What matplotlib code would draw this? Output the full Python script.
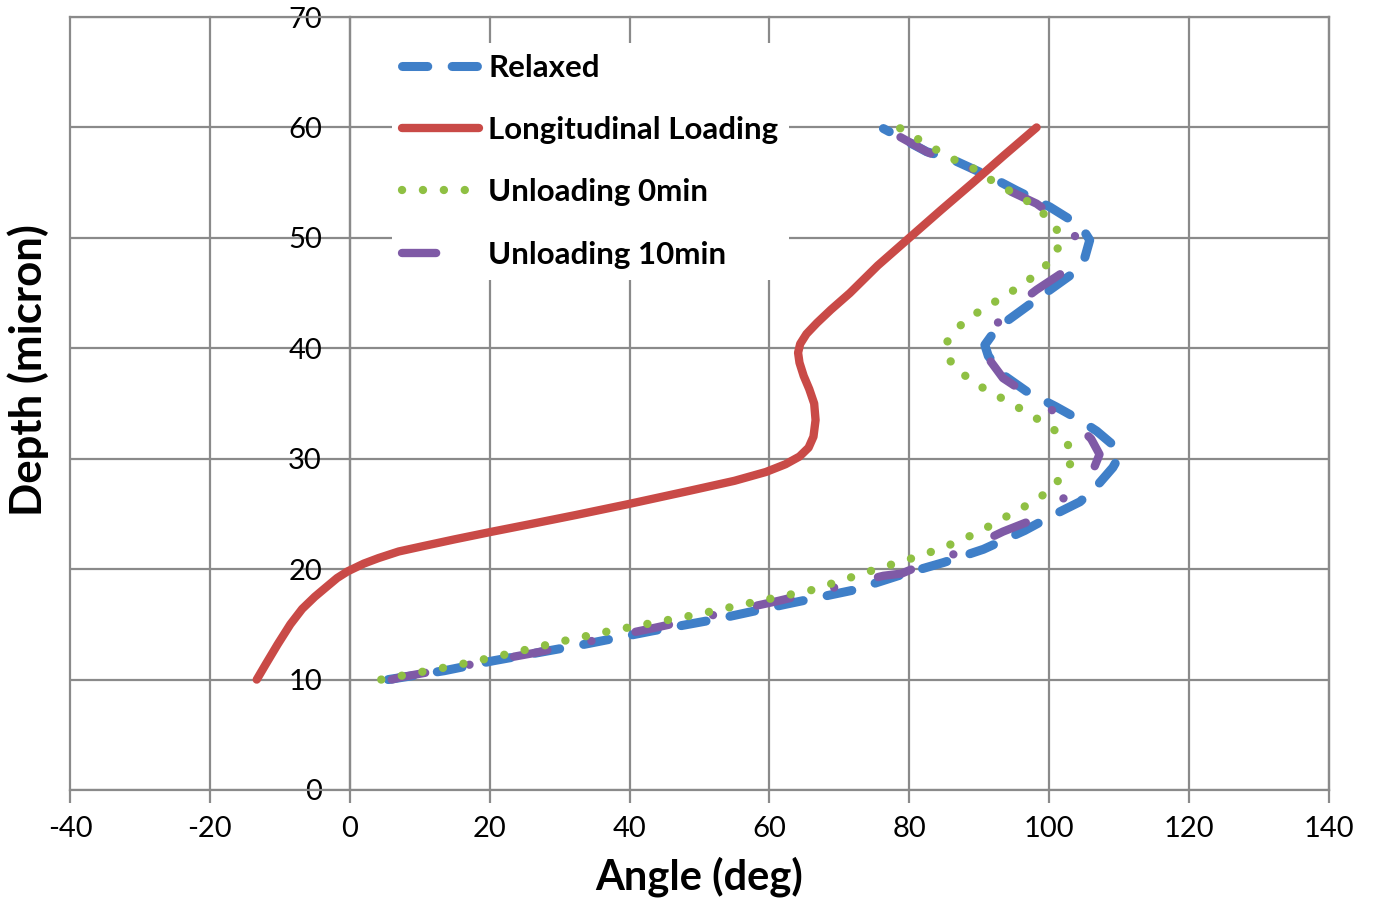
import matplotlib
matplotlib.use("Agg")
import matplotlib.pyplot as plt
from matplotlib.lines import Line2D

plt.rcParams['font.family'] = ['Lato', 'DejaVu Sans']
plt.rcParams['axes.unicode_minus'] = False

# Relaxed (blue dashed): angle (deg) / depth (micron)
relaxed_angle = [5.5, 13.5, 20.5, 33.6, 43.2, 52.7, 62.2, 72.0, 78.9, 84.9, 90.6, 96.5, 100.6,
                 104.4, 106.5, 109.1, 110.0, 109.6, 106.8, 104.4, 101.0, 97.0, 93.4, 91.3, 90.8,
                 92.5, 97.7, 103.0, 105.0, 105.8, 105.0, 103.4, 100.1, 95.3, 92.0, 85.8, 82.5, 76.3]
relaxed_depth = [10.0, 10.8, 11.7, 13.2, 14.4, 15.5, 16.8, 18.1, 19.5, 20.6, 21.8, 23.5, 24.9,
                 26.1, 27.3, 29.2, 30.2, 31.0, 32.5, 33.5, 34.7, 36.0, 37.6, 39.3, 40.3,
                 41.8, 44.2, 46.6, 48.0, 49.8, 50.6, 51.5, 52.8, 54.3, 55.4, 57.2, 57.8, 59.9]

# Longitudinal Loading (red solid)
loading_angle = [-13.3, -12.0, -10.3, -8.5, -6.8, -5.0, -3.5, -1.8, -0.3, 2.0, 4.1, 7.0, 10.6,
                 15.0, 20.4, 26.0, 32.3, 39.9, 48.6, 55.0, 59.5, 62.3, 64.3, 65.6, 66.3, 66.6,
                 66.4, 65.7, 64.9, 64.3, 64.1, 64.4, 65.3, 66.8, 68.8, 71.5, 75.5, 80.0, 84.5,
                 89.1, 93.6, 98.2]
loading_depth = [10.0, 11.4, 13.2, 15.0, 16.4, 17.5, 18.3, 19.2, 19.8, 20.5, 21.0, 21.6, 22.1,
                 22.7, 23.4, 24.1, 24.9, 25.9, 27.1, 28.0, 28.8, 29.5, 30.2, 31.0, 32.0, 33.5,
                 35.0, 36.3, 37.5, 38.7, 39.6, 40.4, 41.3, 42.3, 43.5, 45.0, 47.5, 50.0, 52.5,
                 55.0, 57.5, 60.0]

# Unloading 0min (green dotted)
unload0_angle = [4.5, 14.5, 21.1, 30.6, 37.2, 49.7, 56.2, 66.0, 75.3, 78.4, 81.5, 84.6, 87.7,
                 90.6, 93.4, 96.3, 99.1, 101.6, 103.4, 102.4, 99.9, 97.0, 94.1, 91.3, 88.4,
                 86.0, 85.3, 87.5, 90.1, 93.0, 95.8, 98.4, 100.8, 101.8, 99.9, 97.5, 91.8,
                 88.9, 86.0, 83.0, 80.3, 78.5]
unload0_depth = [10.0, 11.2, 12.1, 13.5, 14.4, 15.9, 16.8, 18.1, 20.0, 20.6, 21.2, 21.9, 22.7,
                 23.6, 24.6, 25.6, 26.7, 28.2, 29.9, 31.8, 33.0, 34.1, 35.2, 36.1, 37.3,
                 38.6, 40.5, 42.2, 43.4, 44.5, 45.6, 46.8, 48.3, 50.1, 51.8, 53.1, 55.2,
                 56.4, 57.2, 58.3, 59.3, 60.0]

# Unloading 10min (purple dash-dot)
unload10_angle = [6.0, 7.2, 26.3, 43.7, 61.1, 76.3, 78.9, 81.5, 87.5, 93.4, 98.2, 103.3, 106.5,
                  107.2, 106.0, 104.4, 98.9, 93.4, 90.6, 91.0, 93.2, 98.2, 102.5, 104.2, 103.2,
                  98.2, 92.5, 88.7, 86.3, 82.5, 76.8]
unload10_depth = [10.0, 10.2, 12.4, 14.7, 17.1, 19.4, 19.6, 20.3, 21.6, 23.4, 24.6, 27.0, 29.3,
                  30.4, 31.8, 32.8, 35.0, 37.3, 39.7, 40.5, 42.9, 45.3, 47.1, 49.5, 50.8,
                  53.1, 54.8, 56.4, 56.7, 57.8, 59.8]

x_ticks = [-40, -20, 0, 20, 40, 60, 80, 100, 120, 140]
y_ticks = [0, 10, 20, 30, 40, 50, 60, 70]

grid_color = '#8a8a8a'
c_blue = '#3f7fc8'
c_red = '#c94a47'
c_green = '#8fc043'
c_purple = '#7f5aa6'

fig = plt.figure(figsize=(13.75, 9.01), dpi=100)
ax = fig.add_axes([0.0509, 0.1232, 0.9156, 0.8579])

ln_relaxed, = ax.plot(relaxed_angle, relaxed_depth, color=c_blue, lw=6.5,
                      dashes=(2.8, 2.7), dash_capstyle='round', zorder=3, label='Relaxed')
ax.plot(unload10_angle, unload10_depth, color=c_purple, lw=6,
        dashes=(4.1, 5.4, 0.01, 5.4), dash_capstyle='round', zorder=4)
ln_loading, = ax.plot(loading_angle, loading_depth, color=c_red, lw=6,
                      solid_capstyle='round', solid_joinstyle='round', zorder=5,
                      label='Longitudinal Loading')
ln_unload0, = ax.plot(unload0_angle, unload0_depth, color=c_green, lw=6,
                      dashes=(0.01, 2.5), dash_capstyle='round', zorder=6,
                      label='Unloading 0min')
# legend shows only one long dash for the 10min series
ln_unload10 = Line2D([], [], color=c_purple, lw=6, dashes=(4.1, 20),
                     dash_capstyle='round', label='Unloading 10min')

ax.set_xlim(-40, 140)
ax.set_ylim(0, 70)
ax.set_xticks(x_ticks)
ax.set_yticks(y_ticks)

ax.grid(True, color=grid_color, lw=1.6)
for gl in ax.get_xgridlines() + ax.get_ygridlines():
    gl.set_clip_on(False)
ax.set_axisbelow(True)

# y axis crosses at x = 0 like Excel
ax.spines['left'].set_position(('data', 0))
for s in ax.spines.values():
    s.set_color(grid_color)
    s.set_linewidth(1.6)

ax.tick_params(axis='y', length=0, pad=20, labelsize=21)
ax.tick_params(axis='x', direction='out', length=9, width=1.6, color=grid_color,
               pad=10, labelsize=21)

ax.set_xlabel('Angle (deg)', fontsize=30, fontweight='bold', labelpad=10)
ax.set_ylabel('Depth (micron)', fontsize=31.5, fontweight='bold')
ax.yaxis.set_label_coords(-0.017, 0.543, transform=ax.transAxes)

leg = ax.legend(handles=[ln_relaxed, ln_loading, ln_unload0, ln_unload10],
                loc='upper left', bbox_to_anchor=(0.243, 0.987),
                prop={'weight': 'bold', 'size': 22.5}, frameon=True, fancybox=False,
                framealpha=1, edgecolor='none', handlelength=2.45, handletextpad=0.3,
                labelspacing=1.1, borderpad=0.35)
leg.set_zorder(10)

fig.savefig('out.png', dpi=100)
